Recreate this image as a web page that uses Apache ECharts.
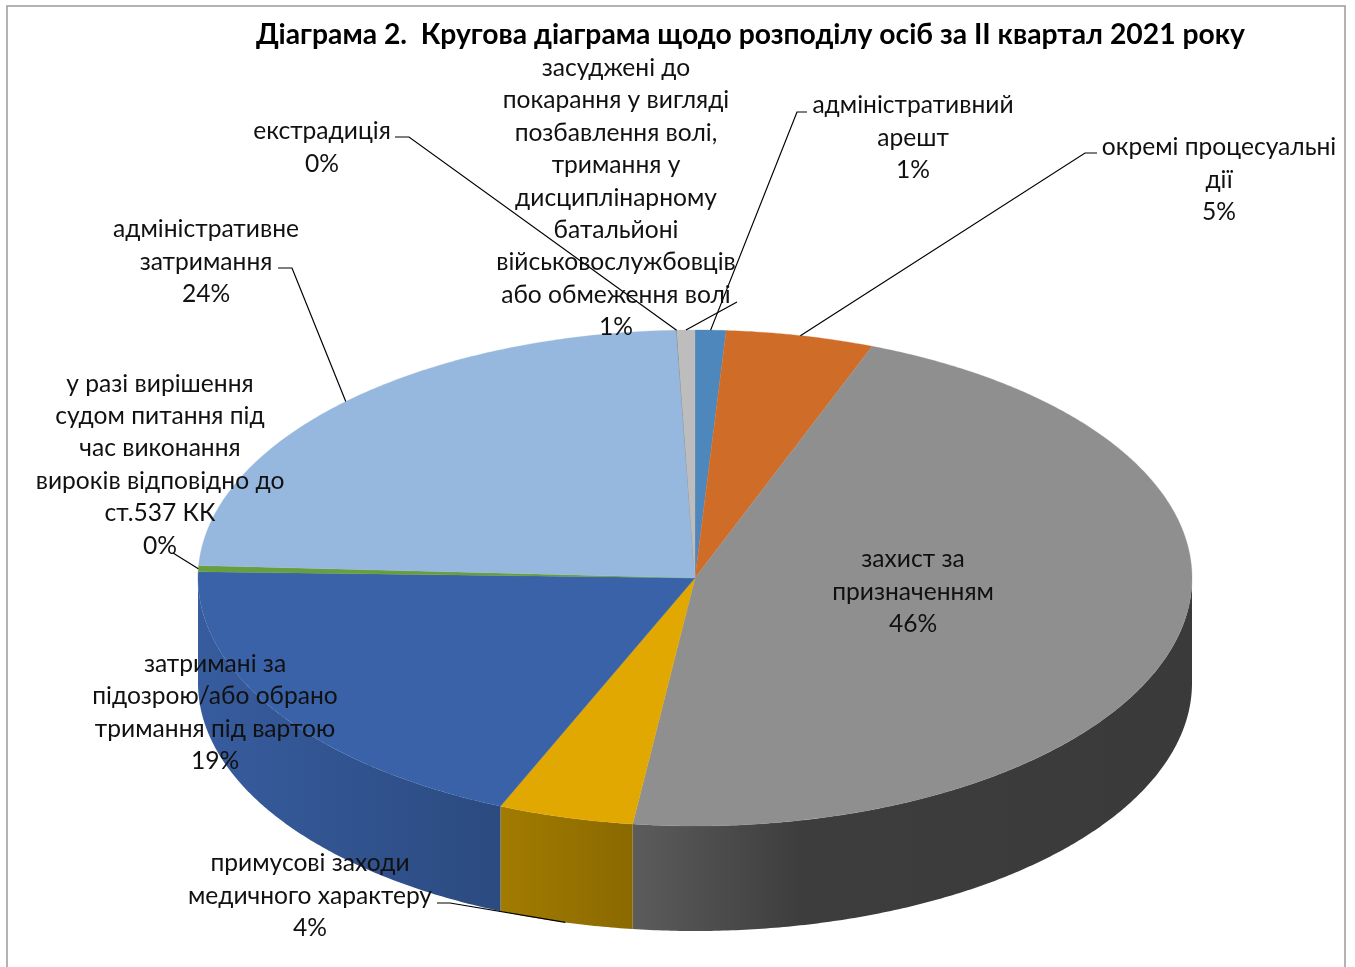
<!DOCTYPE html>
<html>
<head>
<meta charset="utf-8">
<style>
  html, body { margin: 0; padding: 0; background: #fff; }
  #chart { width: 1355px; height: 967px; }
</style>
<script src="https://cdn.jsdelivr.net/npm/echarts@6/dist/echarts.min.js"></script>
</head>
<body>
<div id="chart"></div>
<script>
// shares in percent, clockwise from 12 o'clock
var categories = [
  'адміністративний\nарешт',
  'окремі процесуальні\nдії',
  'захист за\nпризначенням',
  'примусові заходи\nмедичного характеру',
  'затримані за\nпідозрою/або обрано\nтримання під вартою',
  'у разі вирішення\nсудом питання під\nчас виконання\nвироків відповідно до\nст.537 КК',
  'адміністративне\nзатримання',
  'екстрадиція',
  'засуджені до\nпокарання у вигляді\nпозбавлення волі,\nтримання у\nдисциплінарному\nбатальйоні\nвійськовослужбовців\nабо обмеження волі'
];
var values = [1.0, 4.8, 46.2, 4.4, 19.0, 0.4, 23.6, 0.02, 0.58];
var titleText = 'Діаграма 2.  Кругова діаграма щодо розподілу осіб за ІІ квартал 2021 року';

var topColors = ['#4d87bb', '#cf6d28', '#8f8f8f', '#e0a800', '#3a62a8', '#669e40', '#97b8de', '#7f7f7f', '#bdbdbd'];
var wallColors = {
  2: [[0, '#5c5c5c'], [0.3, '#3d3d3d'], [1, '#3a3a3a']],
  3: [[0, '#a27b00'], [1, '#8a6900']],
  4: [[0, '#375c9e'], [1, '#2b4a80']]
};

// label block centres
var labelCenters = [
  [913, 137.7], [1219, 179.7], [913, 591.7], [310, 895.7], [215, 712.7],
  [160, 464.7], [206, 261.7], [322, 147.7], [616, 197.7]
];
// leader start (elbow) points, null = no leader
var leaderStarts = [
  [[807, 112], [797, 112]],
  [[1097, 153], [1085, 153]],
  null,
  [[437, 903], [450, 903]],
  null,
  [[173, 553]],
  [[278, 268], [292, 268]],
  [[395, 137], [409, 137]],
  [[737, 302]]
];

var cx = 695, cy = 578, rx = 497, ry = 248, depth = 105;
var fontName = 'Lato, "Open Sans"';

var total = values.reduce(function (a, b) { return a + b; }, 0);
var starts = [];
values.reduce(function (sum, v, i) { starts[i] = sum; return sum + v; }, 0);

function toAngle(v) { return v / total * 360; }
function onEllipse(deg, dy) {
  var r = deg * Math.PI / 180;
  return [cx + rx * Math.sin(r), cy - ry * Math.cos(r) + (dy || 0)];
}
function arc(a0, a1, dy) {
  var pts = [], n = Math.max(2, Math.ceil(Math.abs(a1 - a0) * 2));
  for (var i = 0; i <= n; i++) pts.push(onEllipse(a0 + (a1 - a0) * i / n, dy));
  return pts;
}
function sliceRange(i) {
  return [toAngle(starts[i]), toAngle(starts[i] + values[i])];
}

function renderWall(params) {
  var i = params.dataIndex, r = sliceRange(i);
  var a0 = Math.max(r[0], 90), a1 = Math.min(r[1], 270);
  if (a1 <= a0) return null;
  var stops = (wallColors[i] || []).map(function (s) { return { offset: s[0], color: s[1] }; });
  return {
    type: 'polygon',
    shape: { points: arc(a0, a1, 0).concat(arc(a1, a0, depth)) },
    style: { fill: new echarts.graphic.LinearGradient(0, 0, 1, 0, stops) }
  };
}
function renderTop(params) {
  var i = params.dataIndex, r = sliceRange(i);
  return {
    type: 'polygon',
    shape: { points: [[cx, cy]].concat(arc(r[0], r[1], 0)) },
    style: { fill: topColors[i], stroke: topColors[i], lineWidth: 0.3 }
  };
}
function renderLeader(params) {
  var i = params.dataIndex;
  if (!leaderStarts[i]) return null;
  var r = sliceRange(i), mid = (r[0] + r[1]) / 2;
  // the front slice is tied to the lower rim
  var end = onEllipse(mid, mid > 90 && mid < 270 ? depth : 0);
  return {
    type: 'polyline',
    shape: { points: leaderStarts[i].concat([end]) },
    style: { stroke: '#000', lineWidth: 1.2, fill: null }
  };
}
function renderLabel(params) {
  var i = params.dataIndex;
  return {
    type: 'text',
    x: labelCenters[i][0],
    y: labelCenters[i][1],
    style: {
      text: categories[i] + '\n' + Math.round(values[i]) + '%',
      fill: '#111',
      font: '24.6px ' + fontName,
      lineHeight: 32.4,
      align: 'center',
      verticalAlign: 'middle'
    }
  };
}

var seriesData = values.map(function (v, i) { return { name: categories[i], value: v }; });
function layer(render) {
  return { type: 'custom', coordinateSystem: 'none', silent: true, clip: false, animation: false, data: seriesData, renderItem: render };
}

var chart = echarts.init(document.getElementById('chart'));
chart.setOption({
  backgroundColor: '#fff',
  animation: false,
  title: {
    text: titleText,
    left: 745.5,
    top: 16,
    textAlign: 'center',
    textStyle: { fontFamily: fontName, fontWeight: 'bold', fontSize: 28.3, color: '#000' }
  },
  graphic: [{
    type: 'rect',
    shape: { x: 7, y: 6, width: 1338, height: 990 },
    style: { fill: null, stroke: '#9a9a9a', lineWidth: 1.5 }
  }],
  series: [layer(renderWall), layer(renderTop), layer(renderLeader), layer(renderLabel)]
});
</script>
</body>
</html>
